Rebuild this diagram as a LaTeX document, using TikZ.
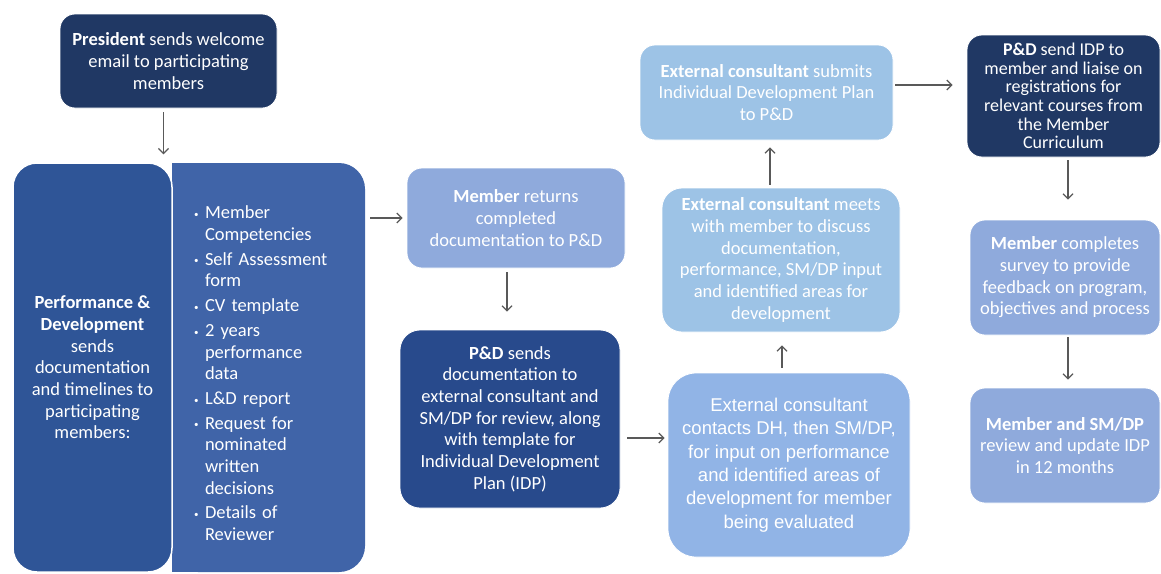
\documentclass[tikz,border=0pt]{standalone}
\usepackage{fontspec}
\setmainfont{Carlito}
\newfontfamily\arialfont{Liberation Sans}
\usetikzlibrary{arrows.meta,backgrounds}

\definecolor{navy}{RGB}{32,56,100}
\definecolor{pdblue}{RGB}{47,85,151}
\definecolor{listblue}{RGB}{64,100,168}
\definecolor{senddark}{RGB}{40,74,140}
\definecolor{lilac}{RGB}{143,170,220}
\definecolor{sky}{RGB}{157,195,230}
\definecolor{contactblue}{RGB}{145,180,230}
\definecolor{arrowgray}{RGB}{89,89,89}

\newcommand\bul[1]{\par\vspace{3pt}\hangindent=12pt\hangafter=1\noindent
  \makebox[12pt][l]{\hspace{1pt}\raisebox{.15ex}{\small\textbullet}}#1}

\begin{document}
\begin{tikzpicture}[x=1pt, y=-1pt,
  box/.style={rounded corners=15pt, draw=white, line width=.8pt, text=white,
    align=center, inner sep=0pt, font=\fontsize{18.5}{21.7}\selectfont},
  flow/.style={draw=arrowgray, line width=1.2pt, -{Straight Barb[length=5pt,width=10pt]}}]
  \useasboundingbox (0,0) rectangle (1161,573);

  \node [box, fill=navy, minimum width=217pt, minimum height=94pt] (pres) at (168.5,61)
    {\textbf{President} sends welcome\\email to participating\\members};
  \node [box, fill=listblue, draw=none, rounded corners=26pt, minimum width=193pt, minimum height=409pt,
    text width=151pt, inner xsep=21pt, align=left] (lst) at (268.5,367.5)
    {\raggedright\bul{Member\newline Competencies}\bul{Self Assessment\newline form}\bul{CV template}%
     \bul{2 years\newline performance\newline data}\bul{L\&D report}%
     \bul{Request for\newline nominated\newline written\newline decisions}%
     \bul{Details of\newline Reviewer}\par};
  \begin{scope}[on background layer]
    \fill [listblue] (lst.north west) rectangle (lst.south);
  \end{scope}
  \node [box, fill=pdblue, line width=1.5pt, rounded corners=24pt, minimum width=159pt, minimum height=409pt]
    (pdl) at (92.5,367.5)
    {\textbf{Performance \&}\\\textbf{Development}\\sends\\documentation\\and timelines to\\participating\\members:};

  \node [box, fill=lilac, minimum width=218pt, minimum height=100pt] (mret) at (516,218)
    {\textbf{Member} returns\\completed\\documentation to P\&D};
  \node [box, fill=senddark, rounded corners=20pt, minimum width=220pt, minimum height=178pt] (psend) at (510,419)
    {\textbf{P\&D} sends\\documentation to\\external consultant and\\SM/DP for review, along\\with template for\\Individual Development\\Plan (IDP)};

  \node [box, fill=contactblue, rounded corners=28pt, minimum width=242pt, minimum height=184pt,
    font=\arialfont\fontsize{18.5}{23.3}\selectfont] (contacts) at (789,465)
    {External consultant\\contacts DH, then SM/DP,\\for input on performance\\and identified areas of\\development for member\\being evaluated};
  \node [box, fill=sky, rounded corners=20pt, minimum width=238pt, minimum height=144pt] (meets) at (781,260)
    {\textbf{External consultant} meets\\with member to discuss\\documentation,\\performance, SM/DP input\\and identified areas for\\development};
  \node [box, fill=sky, minimum width=253pt, minimum height=95pt] (submits) at (766.5,92.5)
    {\textbf{External consultant} submits\\Individual Development Plan\\to P\&D};

  \node [box, fill=navy, minimum width=193pt, minimum height=122pt, font=\fontsize{18}{18.6}\selectfont]
    (idp) at (1063.5,96)
    {\textbf{P\&D} send IDP to\\member and liaise on\\registrations for\\relevant courses from\\the Member\\Curriculum};
  \node [box, fill=lilac, minimum width=190pt, minimum height=115pt] (mcomp) at (1065,277.5)
    {\textbf{Member} completes\\survey to provide\\feedback on program,\\objectives and process};
  \node [box, fill=lilac, minimum width=190pt, minimum height=115pt] (mrev) at (1065,445.5)
    {\textbf{Member and SM/DP}\\review and update IDP\\in 12 months};

  % connectors
  \draw [flow, shorten <=4pt, shorten >=8pt] ([xshift=-5pt]pres.south) -- ([xshift=-5pt]pres.south |- pdl.north);
  \draw [flow, shorten <=5pt, shorten >=4pt] (lst.east |- mret.west) -- (mret.west);
  \draw [flow, shorten <=4pt, shorten >=18pt] ([xshift=-9pt]mret.south) -- ([xshift=-9pt]mret.south |- psend.north);
  \draw [flow, shorten <=7pt, shorten >=3pt] ([yshift=-19pt]psend.east) -- ([yshift=-19pt]psend.east -| contacts.west);
  \draw [flow, shorten <=5pt, shorten >=13pt] ([xshift=-7pt]contacts.north) -- ([xshift=-7pt]contacts.north |- meets.south);
  \draw [flow, shorten <=3pt, shorten >=7pt] ([xshift=-11pt]meets.north) -- ([xshift=-11pt]meets.north |- submits.south);
  \draw [flow, shorten <=2pt, shorten >=14pt] ([yshift=7.5pt]submits.east) -- ([yshift=7.5pt]submits.east -| idp.west);
  \draw [flow, shorten <=3pt, shorten >=20pt] ([xshift=4.5pt]idp.south) -- ([xshift=4.5pt]idp.south |- mcomp.north);
  \draw [flow, shorten <=2pt, shorten >=8pt] ([xshift=3pt]mcomp.south) -- ([xshift=3pt]mcomp.south |- mrev.north);
\end{tikzpicture}
\end{document}
